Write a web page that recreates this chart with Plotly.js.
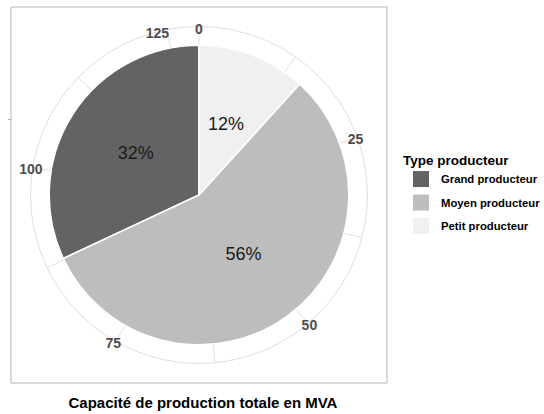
<!DOCTYPE html>
<html>
<head>
<meta charset="utf-8">
<script src="https://cdn.plot.ly/plotly-3.0.1.min.js"></script>
<style>html,body{margin:0;padding:0;background:#fff;}#chart{width:544px;height:414px;}</style>
</head>
<body>
<div id="chart"></div>
<script>
// ---- data ----
const categories = ['Grand producteur', 'Moyen producteur', 'Petit producteur'];
const capacity = [41.2, 72.6, 15.1];           // MVA
const sliceColors = ['#636363', '#bdbdbd', '#f0f0f0'];
const majorTicks = [0, 25, 50, 75, 100, 125];
const majorLabels = ['0', '25', '50', '75', '100', '125'];
const minorTicks = [12.5, 37.5, 62.5, 87.5, 112.5];
const legendTitle = 'Type producteur';
const axisTitle = 'Capacité de production totale en MVA';

// ---- derived ----
const total = capacity.reduce((a, b) => a + b, 0);
const toDeg = v => v / total * 360;
const start = new Array(categories.length);
let acc = 0;
for (let i = categories.length - 1; i >= 0; i--) { start[i] = acc; acc += capacity[i]; }
const mids = capacity.map((v, i) => toDeg(start[i] + v / 2));
const pct = capacity.map(v => Math.round(v / total * 100) + '%');

const W = 544, H = 414;
const cx = 199, cyTop = 195;
const R1 = 168.5, R2 = 158;
const dom = R => ({
  x: [(cx - R) / W, (cx + R) / W],
  y: [(H - cyTop - R) / H, (H - cyTop + R) / H]
});
const FONT = 'Liberation Sans, Arial, sans-serif';

// slices
const traces = categories.map((c, i) => ({
  type: 'barpolar',
  subplot: 'polar',
  name: c,
  legendgroup: c,
  showlegend: false,
  r: [0.4],
  base: [0],
  theta: [mids[i]],
  width: [toDeg(capacity[i])],
  marker: { color: sliceColors[i], line: { color: '#ffffff', width: 1.5 } },
  hoverinfo: 'skip'
}));

// legend keys (square swatches); their single point lies outside the clipped range of polar2
categories.forEach((c, i) => traces.push({
  type: 'scatterpolar',
  subplot: 'polar2',
  name: c,
  legendgroup: c,
  mode: 'markers',
  r: [5], theta: [0],
  cliponaxis: true,
  marker: { symbol: 'square', size: 20, color: sliceColors[i], line: { width: 0 } },
  hoverinfo: 'skip'
}));

// percentage labels
traces.push({
  type: 'scatterpolar',
  subplot: 'polar',
  mode: 'text',
  r: categories.map(() => 0.2),
  theta: mids,
  text: pct,
  textposition: 'middle center',
  textfont: { family: FONT, size: 18, color: '#1a1a1a' },
  showlegend: false,
  hoverinfo: 'skip'
});

const allGrid = majorTicks.concat(minorTicks).sort((a, b) => a - b);

const layout = {
  width: W, height: H,
  margin: { l: 0, r: 0, t: 0, b: 0, autoexpand: false },
  paper_bgcolor: '#ffffff',
  font: { family: FONT, color: '#000000' },
  showlegend: true,
  hovermode: false,
  polar: {
    domain: dom(R1),
    bgcolor: 'rgba(0,0,0,0)',
    radialaxis: { range: [0, 0.45], visible: false, showgrid: false },
    angularaxis: {
      rotation: 90, direction: 'clockwise', thetaunit: 'degrees',
      tickmode: 'array', tickvals: allGrid.map(toDeg),
      showticklabels: false, ticks: '',
      showgrid: true, gridcolor: '#e0e0e0', gridwidth: 1,
      showline: true, linecolor: '#dedede', linewidth: 1,
      layer: 'below traces'
    }
  },
  polar2: {
    domain: dom(R2),
    bgcolor: 'rgba(0,0,0,0)',
    radialaxis: { range: [0, 1], visible: false, showgrid: false, autorange: false },
    angularaxis: {
      rotation: 90, direction: 'clockwise', thetaunit: 'degrees',
      tickmode: 'array', tickvals: majorTicks.map(toDeg), ticktext: majorLabels,
      ticks: '', showgrid: false, showline: false,
      tickfont: { family: FONT, size: 14, color: '#4d4d4d', weight: 'bold' }
    }
  },
  legend: {
    xref: 'container', yref: 'container',
    x: 401 / W, xanchor: 'left',
    y: (H - 147) / H, yanchor: 'top',
    traceorder: 'grouped', tracegroupgap: 4.5,
    itemsizing: 'trace',
    title: { text: legendTitle, font: { family: FONT, size: 13.5, weight: 'bold', color: '#000000' } },
    font: { family: FONT, size: 11.3, weight: 'bold', color: '#000000' },
    bgcolor: 'rgba(0,0,0,0)'
  },
  title: {
    text: axisTitle,
    font: { family: FONT, size: 15, weight: 'bold', color: '#000000' },
    x: 203 / W, xanchor: 'center', xref: 'container',
    y: (H - 403) / H, yanchor: 'middle', yref: 'container'
  },
  shapes: [
    { type: 'rect', xref: 'paper', yref: 'paper', layer: 'below',
      x0: 11 / W, x1: 387 / W, y0: (H - 383) / H, y1: (H - 7) / H,
      line: { color: '#b3b3b3', width: 1 }, fillcolor: 'rgba(0,0,0,0)' },
    { type: 'line', xref: 'paper', yref: 'paper',
      x0: 8 / W, x1: 11 / W, y0: (H - 119.5) / H, y1: (H - 119.5) / H,
      line: { color: '#b3b3b3', width: 1 } }
  ]
};

Plotly.newPlot('chart', traces, layout, { staticPlot: true, displayModeBar: false });
</script>
</body>
</html>
